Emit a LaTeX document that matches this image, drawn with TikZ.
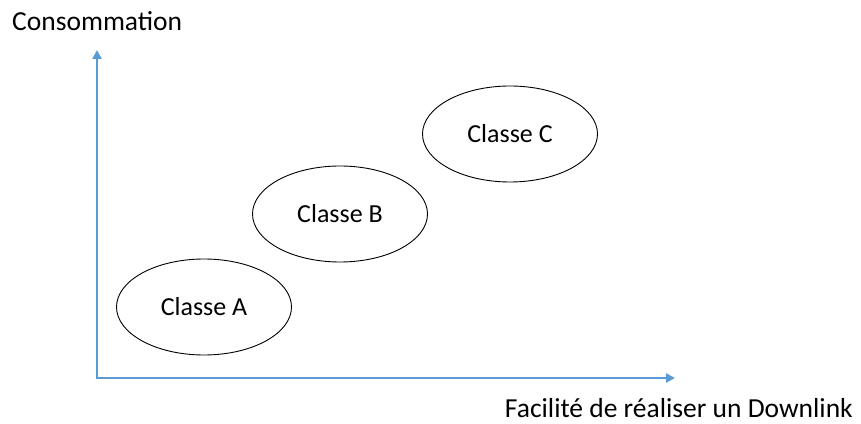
\documentclass[tikz,border=0pt]{standalone}
\usepackage{fontspec}
\setmainfont{Carlito}
\usetikzlibrary{arrows.meta,shapes.geometric}
\definecolor{axisblue}{HTML}{5B9BD5}
\begin{document}
\begin{tikzpicture}[x=1pt,y=1pt,
  axisline/.style={draw=axisblue,line width=2.4pt,-{Triangle[length=9pt,width=9pt]}},
  classe/.style={ellipse,draw=black,line width=0.9pt,minimum width=175pt,minimum height=96pt,inner sep=0pt,font=\fontsize{26}{30}\selectfont},
  axislabel/.style={inner sep=0pt,font=\fontsize{27.5}{32}\selectfont}]
\useasboundingbox (0,0) rectangle (861,423);
% axes
\coordinate (origin) at (97,45);
\coordinate (ytip) at (97,373);
\coordinate (xtip) at (675,45);
\draw[axisline] ([yshift=-1.2pt]origin) -- (ytip);
\draw[axisline] ([xshift=-1.2pt]origin) -- (xtip);
% axis labels
\node[axislabel,anchor=west] (ylab) at (12,402) {Consommation};
\node[axislabel,anchor=east] (xlab) at (853,15) {Facilité de réaliser un Downlink};
% classes
\node[classe] (A) at (204,116) {Classe A};
\node[classe] (B) at (340,209) {Classe B};
\node[classe] (C) at (510,289) {Classe C};
\end{tikzpicture}
\end{document}
